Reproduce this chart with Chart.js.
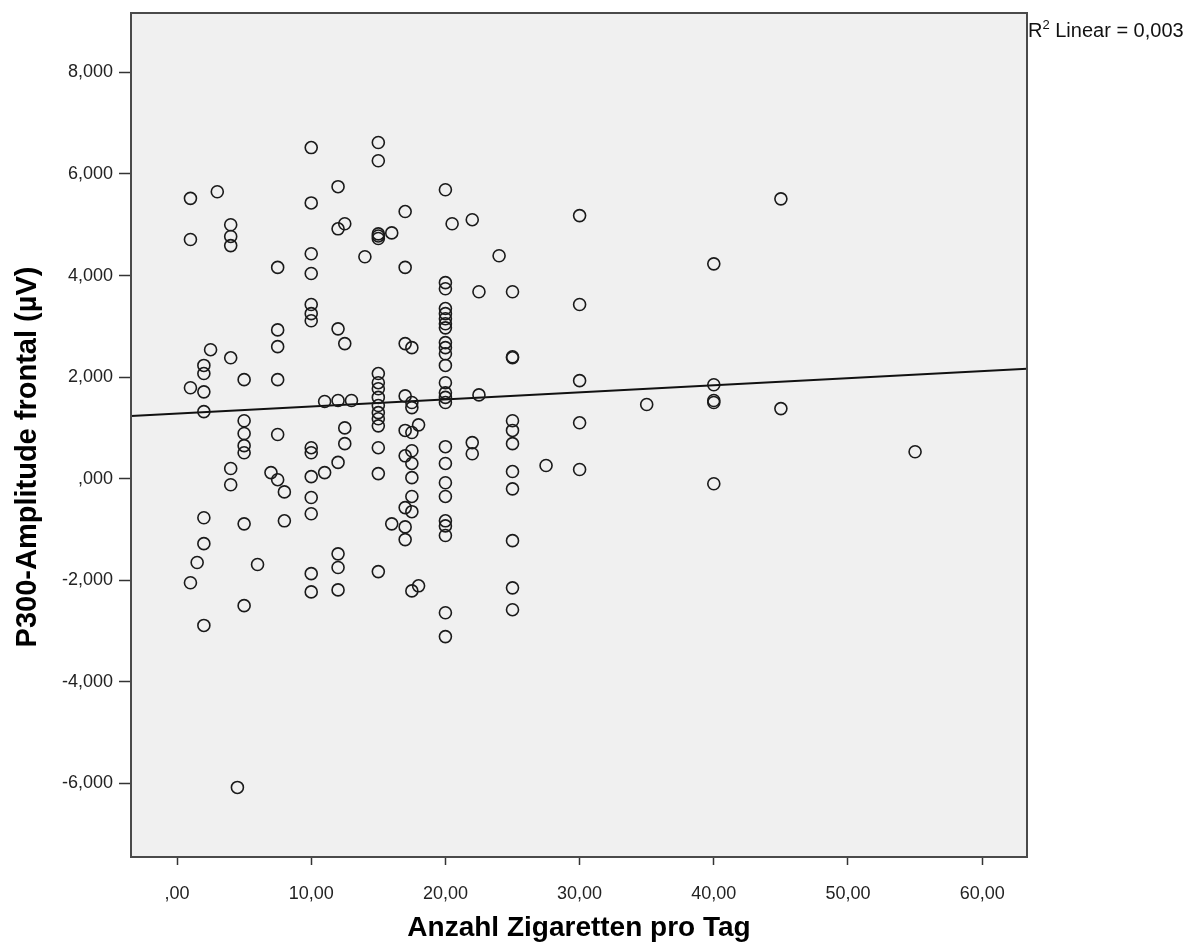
<!DOCTYPE html>
<html>
<head>
<meta charset="utf-8">
<script src="https://cdn.jsdelivr.net/npm/chart.js@4.4.0/dist/chart.umd.min.js"></script>
<style>
  html, body { margin: 0; padding: 0; background: #fff; }
  #wrap { width: 1196px; height: 945px; }
</style>
</head>
<body>
<div id="wrap"><canvas id="scatter" width="1196" height="945"></canvas></div>
<script>
// cigarettes per day (x) and frontal P300 amplitude in µV (y), same order
const cigarettes = [
  1, 1, 1, 1,
  1.5,
  2, 2, 2, 2, 2, 2, 2,
  2.5,
  3,
  4, 4, 4, 4, 4, 4,
  4.5,
  5, 5, 5, 5, 5, 5, 5,
  6,
  7,
  7.5, 7.5, 7.5, 7.5, 7.5, 7.5,
  8, 8,
  10, 10, 10, 10, 10, 10, 10, 10, 10, 10, 10, 10, 10, 10,
  11, 11,
  12, 12, 12, 12, 12, 12, 12, 12,
  12.5, 12.5, 12.5, 12.5,
  13,
  14,
  15, 15, 15, 15, 15, 15, 15, 15, 15, 15, 15, 15, 15, 15, 15, 15,
  16, 16,
  17, 17, 17, 17, 17, 17, 17, 17, 17,
  17.5, 17.5, 17.5, 17.5, 17.5, 17.5, 17.5, 17.5, 17.5, 17.5,
  18, 18,
  20, 20, 20, 20, 20, 20, 20, 20, 20, 20, 20, 20, 20, 20, 20, 20, 20, 20, 20, 20, 20, 20, 20, 20, 20,
  20.5,
  22, 22, 22,
  22.5, 22.5,
  24,
  25, 25, 25, 25, 25, 25, 25, 25, 25, 25, 25,
  27.5,
  30, 30, 30, 30, 30,
  35,
  40, 40, 40, 40, 40,
  45, 45,
  55
];
const amplitude = [
  5.52, 4.71, 1.79, -2.05,
  -1.65,
  2.23, 2.07, 1.71, 1.32, -0.77, -1.28, -2.89,
  2.54,
  5.65,
  5.00, 4.77, 4.59, 2.38, 0.20, -0.12,
  -6.08,
  1.95, 1.14, 0.89, 0.65, 0.51, -0.89, -2.50,
  -1.69,
  0.12,
  4.16, 2.93, 2.60, 1.95, 0.87, -0.02,
  -0.26, -0.83,
  6.52, 5.43, 4.43, 4.04, 3.43, 3.25, 3.11, 0.61, 0.51, 0.04, -0.37, -0.69, -1.87, -2.23,
  1.52, 0.12,
  5.75, 4.92, 2.95, 1.54, 0.32, -1.48, -1.75, -2.19,
  5.02, 2.66, 1.00, 0.69,
  1.54,
  4.37,
  6.62, 6.26, 4.82, 4.78, 4.73, 2.07, 1.89, 1.77, 1.60, 1.44, 1.30, 1.18, 1.04, 0.61, 0.10, -1.83,
  4.84, -0.89,
  5.26, 4.16, 2.66, 1.63, 0.95, 0.45, -0.57, -0.95, -1.20,
  2.58, 1.50, 1.40, 0.91, 0.55, 0.30, 0.02, -0.35, -0.65, -2.21,
  1.06, -2.11,
  5.69, 3.86, 3.74, 3.35, 3.25, 3.15, 3.05, 2.97, 2.68, 2.58, 2.46, 2.23, 1.89, 1.69, 1.60, 1.50, 0.63, 0.30, -0.08, -0.35, -0.83, -0.93, -1.12, -2.64, -3.11,
  5.02,
  5.10, 0.71, 0.49,
  3.68, 1.65,
  4.39,
  3.68, 2.40, 2.38, 1.14, 0.95, 0.69, 0.14, -0.20, -1.22, -2.15, -2.58,
  0.26,
  5.18, 3.43, 1.93, 1.10, 0.18,
  1.46,
  4.23, 1.85, 1.54, 1.50, -0.10,
  5.51, 1.38,
  0.53
];

const xTicks = [0, 10, 20, 30, 40, 50, 60];
const yTicks = [-6, -4, -2, 0, 2, 4, 6, 8];
const xRange = [-3.43, 63.34];
const yRange = [-7.45, 9.17];

// linear fit drawn by SPSS
const fitIntercept = 1.282;
const fitSlope = 0.01397;
const rSquaredText = "0,003";

const xTitle = "Anzahl Zigaretten pro Tag";
const yTitle = "P300-Amplitude frontal (µV)";

const FONT = "'Liberation Sans', Arial, sans-serif";

// SPSS style german numbers: ",00", "10,00", "-2,000"
function spssNumber(v, digits) {
  let s = Math.abs(v).toFixed(digits).replace(".", ",");
  if (s.startsWith("0,")) s = s.slice(1);
  return (v < 0 ? "-" : "") + s;
}

const points = cigarettes.map((c, i) => ({ x: c, y: amplitude[i] }));
const fitLine = xRange.map((x) => ({ x: x, y: fitIntercept + fitSlope * x }));

const plotFrame = {
  id: "plotFrame",
  beforeDraw(chart) {
    const { ctx, chartArea: a } = chart;
    ctx.save();
    ctx.fillStyle = "#f0f0f0";
    ctx.fillRect(a.left, a.top, a.right - a.left, a.bottom - a.top);
    ctx.restore();
  },
  afterDraw(chart) {
    const { ctx, chartArea: a } = chart;
    ctx.save();
    ctx.strokeStyle = "#4a4a4a";
    ctx.lineWidth = 2;
    ctx.strokeRect(a.left, a.top, a.right - a.left, a.bottom - a.top);

    // y title sits a bit below the middle of the frame in the original
    ctx.save();
    ctx.translate(28, (a.top + a.bottom) / 2 + 22);
    ctx.rotate(-Math.PI / 2);
    ctx.font = "bold 29px " + FONT;
    ctx.fillStyle = "#000";
    ctx.textAlign = "center";
    ctx.textBaseline = "middle";
    ctx.fillText(yTitle, 0, 0);
    ctx.restore();

    // R² label right of the frame
    ctx.fillStyle = "#111";
    ctx.textBaseline = "alphabetic";
    let x = a.right + 1;
    const base = a.top + 24;
    ctx.font = "20px " + FONT;
    ctx.fillText("R", x, base);
    x += ctx.measureText("R").width;
    ctx.font = "13px " + FONT;
    ctx.fillText("2", x, base - 8);
    x += ctx.measureText("2").width;
    ctx.font = "20px " + FONT;
    ctx.fillText(" Linear = " + rSquaredText, x, base);
    ctx.restore();
  }
};

new Chart(document.getElementById("scatter"), {
  type: "scatter",
  data: {
    datasets: [
      {
        label: "P300",
        data: points,
        pointRadius: 6,
        pointHoverRadius: 6,
        borderWidth: 1.6,
        borderColor: "#1a1a1a",
        backgroundColor: "rgba(0,0,0,0)"
      },
      {
        type: "line",
        label: "Linear",
        data: fitLine,
        borderColor: "#111",
        borderWidth: 2,
        pointRadius: 0,
        fill: false
      }
    ]
  },
  options: {
    responsive: false,
    animation: false,
    layout: { padding: { top: 13, right: 169, left: 0, bottom: 0 } },
    plugins: {
      legend: { display: false },
      tooltip: { enabled: false }
    },
    scales: {
      x: {
        type: "linear",
        min: xRange[0],
        max: xRange[1],
        afterBuildTicks: (s) => { s.ticks = xTicks.map((v) => ({ value: v })); },
        afterFit: (s) => { s.height = 88; },
        grid: { drawOnChartArea: false, tickLength: 8, tickColor: "#333", tickWidth: 1.5 },
        border: { display: false },
        ticks: {
          callback: (v) => spssNumber(v, 2),
          font: { family: FONT, size: 18 },
          color: "#222",
          padding: 18,
          maxRotation: 0,
          autoSkip: false
        },
        title: {
          display: true,
          text: xTitle,
          color: "#000",
          font: { family: FONT, size: 28, weight: "bold" },
          padding: 0
        }
      },
      y: {
        type: "linear",
        min: yRange[0],
        max: yRange[1],
        afterBuildTicks: (s) => { s.ticks = yTicks.map((v) => ({ value: v })); },
        afterFit: (s) => {
          s.width = 131;
          s.paddingTop = 0;
          s.paddingBottom = 0;
        },
        grid: { drawOnChartArea: false, tickLength: 12, tickColor: "#333", tickWidth: 1.5 },
        border: { display: false },
        ticks: {
          callback: (v) => spssNumber(v, 3),
          font: { family: FONT, size: 18 },
          color: "#222",
          padding: 6,
          autoSkip: false
        }
      }
    }
  },
  plugins: [plotFrame]
});
</script>
</body>
</html>
